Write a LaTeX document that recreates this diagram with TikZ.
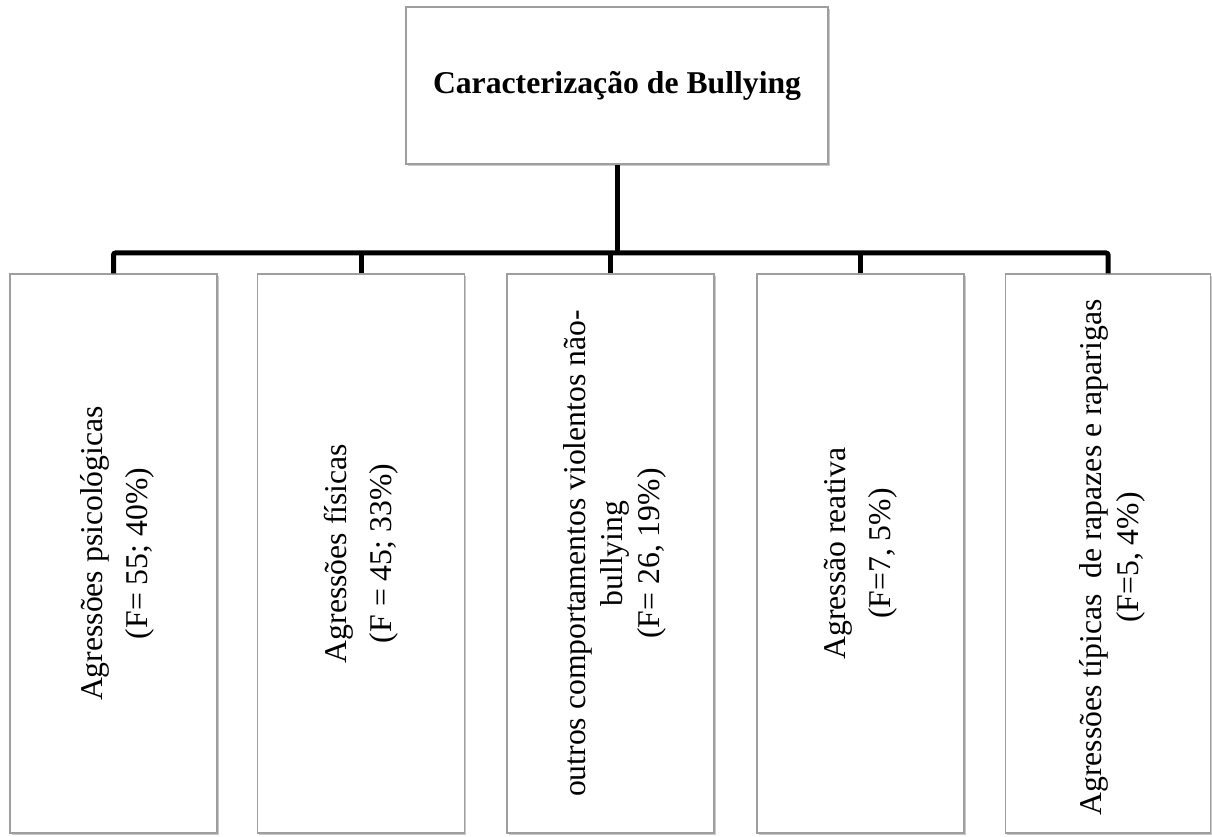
\documentclass[tikz,border=0pt]{standalone}
\usepackage{fontspec}
\setmainfont{Liberation Serif}
\usetikzlibrary{shadows}
\begin{document}
\begin{tikzpicture}[x=1pt,y=1pt,
  boxstyle/.style={draw=black!38, line width=1.3pt, fill=white, inner sep=0pt,
    drop shadow={shadow xshift=1.5pt, shadow yshift=-2pt, opacity=0.35, fill=black!60}},
  childbox/.style={boxstyle, minimum width=207pt, minimum height=559pt},
  vtext/.style={rotate=90, align=center, inner sep=0pt,
    font=\fontsize{31.7}{37}\selectfont},
  conn/.style={line width=5pt, black, rounded corners=2pt}]
\useasboundingbox (0,0) rectangle (1212,837);
% top box
\node[boxstyle, minimum width=422pt, minimum height=157pt] (top) at (617,751.5) {};
\node[font=\fontsize{31.7}{37}\selectfont\bfseries, inner sep=0pt] (title) at (top) {Caracterização de Bullying};
% child boxes
\node[childbox] (b1) at (113.5,283.5) {};
\node[childbox] (b2) at (361,283.5) {};
\node[childbox] (b3) at (610.5,283.5) {};
\node[childbox] (b4) at (860.5,283.5) {};
\node[childbox, minimum width=205pt] (b5) at (1108,283.5) {};
% texts
\node[vtext, yshift=-4pt] (t1) at (b1) {Agressões psicológicas\\[8pt](F= 55; 40\%)};
\node[vtext] (t2) at (b2) {Agressões físicas\\[8pt](F = 45; 33\%)};
\node[vtext, yshift=-4pt] (t3) at (b3) {outros comportamentos violentos não-\\bullying\\(F= 26, 19\%)};
\node[vtext] (t4) at (b4) {Agressão reativa\\[8pt](F=7, 5\%)};
\node[vtext, xshift=-4pt, yshift=-4pt] (t5) at (b5) {Agressões típicas \ de rapazes e raparigas\\(F=5, 4\%)};
% connectors
\coordinate (bar) at (617,584);
\draw[conn] (top.south) -- (bar);
\draw[conn] (b1.north) -- (b1.north |- bar) -- (b5.north |- bar) -- (b5.north);
\draw[conn] (b2.north) -- (b2.north |- bar);
\draw[conn] (b3.north) -- (b3.north |- bar);
\draw[conn] (b4.north) -- (b4.north |- bar);
\end{tikzpicture}
\end{document}
